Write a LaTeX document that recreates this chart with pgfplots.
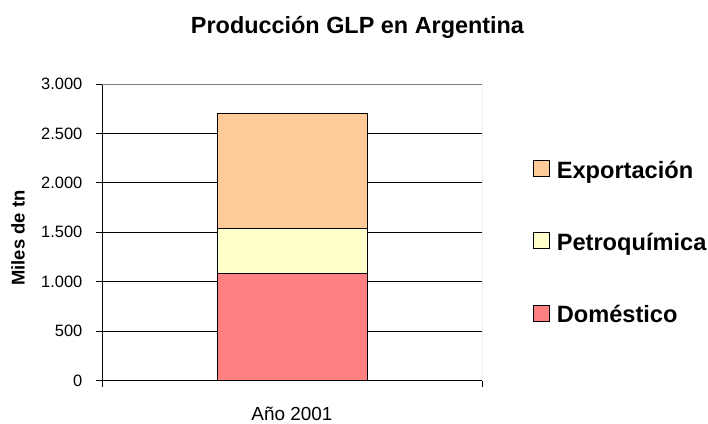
\documentclass[border=0pt]{standalone}
\usepackage{fontspec}
\setmainfont{Liberation Sans}
\usepackage{pgfplots}
\pgfplotsset{compat=1.18}
\definecolor{expo}{HTML}{FFCC99}
\definecolor{petro}{HTML}{FFFFCC}
\definecolor{dome}{HTML}{FF8080}
\pgfplotsset{
  sqlegend/.style={legend image code/.code={\draw[##1,draw=black,line width=0.8bp] (0bp,-7bp) rectangle (16bp,9bp);}}
}
\begin{document}
\begin{tikzpicture}[x=1bp,y=1bp]
\begin{axis}[
  at={(0,0)}, anchor=south west,
  width=380bp, height=296.5bp, scale only axis,
  xmin=-0.5, xmax=0.5, ymin=0, ymax=3000,
  ybar stacked, bar width=0.3947,
  axis x line*=bottom, axis y line*=left,
  axis line style={black, line width=0.8bp},
  tick align=outside, major tick length=6bp,
  tick style={black, line width=0.8bp},
  xtick={-0.5,0.5}, xticklabels={,},
  extra x ticks={0}, extra x tick labels={Año 2001},
  extra x tick style={major tick length=0bp, grid=none,
    xticklabel style={anchor=base, yshift=-39.5bp, inner sep=0pt}},
  ytick={0,500,...,3000},
  ymajorgrids, grid style={black, line width=0.8bp},
  /pgf/number format/.cd, assume math mode=true, use period, 1000 sep={.}, /pgfplots/.cd,
  yticklabel style={font=\fontsize{16.5}{16.5}\selectfont, anchor=east, inner sep=0pt, xshift=-13.5bp},
  xticklabel style={font=\fontsize{19}{19}\selectfont},
  ylabel={Miles de tn},
  ylabel style={font=\bfseries\fontsize{18.5}{18.5}\selectfont, at={(axis description cs:-0.221,0.48)}, anchor=center},
  reverse legend,
  legend cell align=left,
  legend style={at={(axis description cs:1.1342,0.4696)}, anchor=west, draw=none, fill=none,
    inner sep=0pt, outer sep=0pt,
    font=\bfseries\fontsize{23.7}{23.7}\selectfont, row sep=54.3bp, column sep=7bp,
    nodes={inner sep=0pt, outer sep=0pt, text height=17bp, text depth=0bp}},
]
\addplot[fill=dome, draw=black, line width=0.8bp, sqlegend] coordinates {(0,1080)};
\addlegendentry{Doméstico}
\addplot[fill=petro, draw=black, line width=0.8bp, sqlegend] coordinates {(0,460)};
\addlegendentry{Petroquímica}
\addplot[fill=expo, draw=black, line width=0.8bp, sqlegend] coordinates {(0,1160)};
\addlegendentry{Exportación}
\draw[gray, line width=0.8bp] (rel axis cs:0,1) -- (rel axis cs:1,1) -- (rel axis cs:1,0);
\end{axis}
\node[font=\bfseries\fontsize{23.5}{23.5}\selectfont, anchor=base] at (255.5,347.2) {Producción GLP en Argentina};
\pgfresetboundingbox
\path (-102,-42.5) rectangle (606,380.5);
\end{tikzpicture}
\end{document}
